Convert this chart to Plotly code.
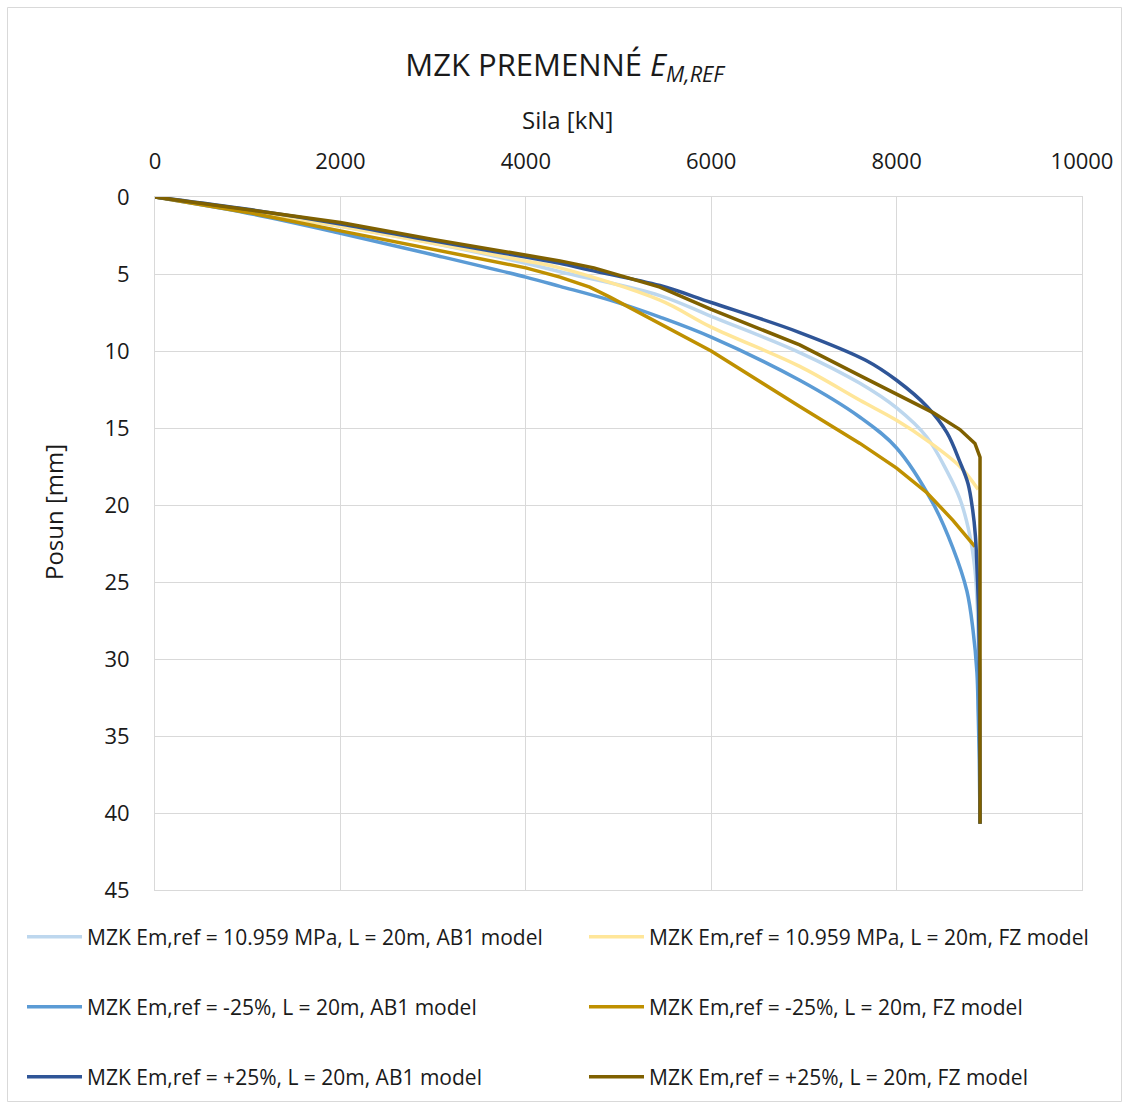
import plotly.graph_objects as go

# Force [kN] and displacement [mm]
ref_ab1_x = [0, 1000, 2000, 3000, 4000, 4369, 5447, 6000, 6955, 7605, 8000, 8327, 8543, 8683, 8791, 8845, 8870, 8885, 8895, 8900]
ref_ab1_y = [0, 0.9, 1.9, 3.0, 4.3, 4.85, 6.4, 7.75, 10.1, 12.1, 13.7, 15.6, 17.8, 19.6, 22.0, 24.2, 26.5, 30.0, 35.0, 40.7]

ref_fz_x = [0, 1000, 2000, 3000, 4000, 4369, 5447, 6000, 6955, 7605, 8000, 8327, 8683, 8880]
ref_fz_y = [0, 0.9, 1.9, 3.0, 4.15, 4.6, 6.7, 8.45, 11.0, 13.2, 14.5, 15.8, 17.5, 19.0]

m25_ab1_x = [0, 1000, 2000, 3000, 4000, 4369, 4908, 5447, 6000, 6955, 7605, 8000, 8393, 8608, 8759, 8824, 8867, 8880, 8892, 8900]
m25_ab1_y = [0, 1.05, 2.35, 3.75, 5.2, 5.8, 6.7, 7.8, 9.1, 11.9, 14.3, 16.3, 19.9, 22.8, 25.6, 28.1, 30.9, 33.5, 36.5, 40.7]

m25_fz_x = [0, 1000, 2000, 3000, 4000, 4369, 4690, 4908, 5447, 6000, 6955, 7605, 8000, 8327, 8608, 8845]
m25_fz_y = [0, 1.0, 2.2, 3.4, 4.6, 5.2, 5.85, 6.5, 8.2, 10.0, 13.6, 16.0, 17.6, 19.2, 21.0, 22.7]

p25_ab1_x = [0, 1000, 2000, 3000, 4000, 4369, 4690, 5447, 6000, 6955, 7667, 8000, 8327, 8543, 8683, 8770, 8820, 8850, 8870, 8885, 8895, 8900]
p25_ab1_y = [0, 0.8, 1.75, 2.85, 3.9, 4.3, 4.75, 5.75, 6.85, 8.8, 10.6, 11.9, 13.6, 15.3, 17.2, 18.6, 20.3, 22.0, 24.5, 27.0, 31.0, 40.7]

p25_fz_x = [0, 1000, 2000, 3000, 4000, 4369, 4735, 5447, 6000, 6955, 7605, 8000, 8393, 8683, 8845, 8900, 8900]
p25_fz_y = [0, 0.8, 1.65, 2.75, 3.77, 4.15, 4.6, 5.85, 7.3, 9.6, 11.6, 12.8, 14.0, 15.1, 16.0, 16.9, 40.7]

names = [
    "MZK Em,ref = 10.959 MPa, L = 20m, AB1 model",
    "MZK Em,ref = 10.959 MPa, L = 20m, FZ model",
    "MZK Em,ref = -25%, L = 20m, AB1 model",
    "MZK Em,ref = -25%, L = 20m, FZ model",
    "MZK Em,ref = +25%, L = 20m, AB1 model",
    "MZK Em,ref = +25%, L = 20m, FZ model",
]
colors = ["#BDD7EE", "#FFE699", "#5B9BD5", "#BF9000", "#2F5597", "#7F6000"]

series = [
    (ref_ab1_x, ref_ab1_y, "spline"),
    (ref_fz_x, ref_fz_y, "spline"),
    (m25_ab1_x, m25_ab1_y, "spline"),
    (m25_fz_x, m25_fz_y, "linear"),
    (p25_ab1_x, p25_ab1_y, "spline"),
    (p25_fz_x, p25_fz_y, "linear"),
]

FONT = "Open Sans, Noto Sans, sans-serif"
TXT = "#1a1a1a"

L, R, T, B = 155, 47, 197, 219
W, H = 1129, 1109
PW, PH = W - L - R, H - T - B

def px2x(px):
    return (px - L) / PW

def py2y(py):
    return (H - B - py) / PH

fig = go.Figure()
legend_keys = ["legend", "legend2", "legend3", "legend4", "legend5", "legend6"]
for (x, y, shape), name, col, lg in zip(series, names, colors, legend_keys):
    fig.add_trace(go.Scatter(
        x=x, y=y, mode="lines", name=name, legend=lg, showlegend=True,
        line=dict(color=col, width=3.5, shape=shape, smoothing=1.0 if shape == "spline" else None),
    ))

leg_pos = [(22, 937), (584, 937), (22, 1007), (584, 1007), (22, 1077), (584, 1077)]
legend_layout = {}
for key, (lx, ly) in zip(legend_keys, leg_pos):
    legend_layout[key] = dict(
        orientation="h", font=dict(family=FONT, size=21, color=TXT),
        bgcolor="rgba(0,0,0,0)", x=px2x(lx), xanchor="left",
        y=py2y(ly), yanchor="middle", itemwidth=55, visible=True,
    )

fig.update_layout(
    width=W, height=H,
    showlegend=True,
    margin=dict(l=L, r=R, t=T, b=B),
    paper_bgcolor="white", plot_bgcolor="white",
    font=dict(family=FONT, color=TXT),
    title=dict(text="MZK PREMENNÉ <i>E</i><sub><i>M,REF</i></sub>",
               x=0.5, xanchor="center", y=1 - 65 / H, yanchor="middle",
               font=dict(family=FONT, size=31, color=TXT)),
    xaxis=dict(side="top", range=[0, 10000], dtick=2000, tick0=0, tickformat="d",
               showgrid=True, gridcolor="#D9D9D9", gridwidth=1,
               zeroline=False, showline=True, mirror=True, linecolor="#D9D9D9",
               ticks="", ticklabelstandoff=18,
               tickfont=dict(family=FONT, size=22, color=TXT)),
    yaxis=dict(range=[45, 0], dtick=5, tick0=0,
               showgrid=True, gridcolor="#D9D9D9", gridwidth=1,
               zeroline=False, showline=True, mirror=True, linecolor="#D9D9D9",
               ticks="", ticklabelstandoff=20,
               tickfont=dict(family=FONT, size=22, color=TXT)),
    annotations=[
        dict(text="Sila [kN]", xref="paper", yref="paper", x=px2x(567), y=py2y(120),
             xanchor="center", yanchor="middle", showarrow=False,
             font=dict(family=FONT, size=24, color=TXT)),
        dict(text="Posun [mm]", xref="paper", yref="paper", x=px2x(53), y=py2y(512),
             xanchor="center", yanchor="middle", showarrow=False, textangle=-90,
             font=dict(family=FONT, size=24, color=TXT)),
    ],
    shapes=[dict(type="rect", xref="paper", yref="paper",
                 x0=px2x(7.5), x1=px2x(1121.5), y0=py2y(1101.5), y1=py2y(7.5),
                 line=dict(color="#D9D9D9", width=1), fillcolor="rgba(0,0,0,0)", layer="below")],
    **legend_layout,
)

fig.write_html("out.html", config={"displayModeBar": False},
               post_script="document.body.style.margin='0';document.body.style.padding='0';")
